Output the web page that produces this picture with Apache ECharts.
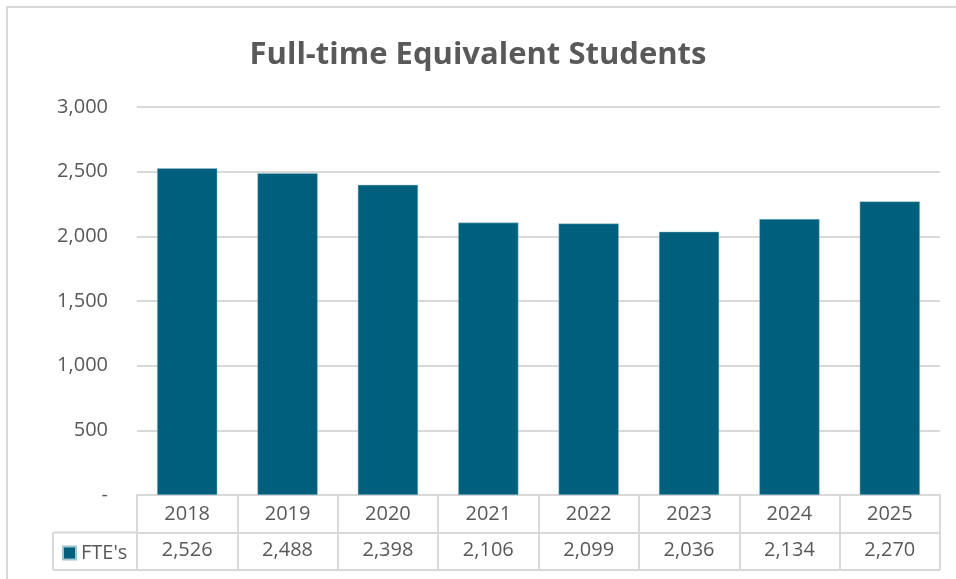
<!DOCTYPE html>
<html>
<head>
<meta charset="utf-8">
<script src="https://cdn.jsdelivr.net/npm/echarts@6/dist/echarts.min.js"></script>
<style>html,body{margin:0;padding:0;background:#fff;}#c{width:956px;height:579px;}</style>
</head>
<body>
<div id="c"></div>
<script>
const titleText = "Full-time Equivalent Students";
const seriesName = "FTE's";
const years = ["2018","2019","2020","2021","2022","2023","2024","2025"];
const fteValues = [2526, 2488, 2398, 2106, 2099, 2036, 2134, 2270];
const yTicks = [0, 500, 1000, 1500, 2000, 2500, 3000];

const fmt = v => v === 0 ? "-" : v.toLocaleString("en-US");
const G = {left: 137, right: 16, top: 107, bottom: 84};
const W = 956, H = 579;
const gx0 = G.left, gx1 = W - G.right, gy1 = H - G.bottom;
const rowH = 37.5;
const lineC = "#d9d9d9";
const txtC = "#595959";
const font = "Open Sans";
const fs = 20;

const chart = echarts.init(document.getElementById("c"), null, {renderer: "canvas"});
chart.setOption({
  animation: false,
  backgroundColor: "#fff",
  title: {
    text: titleText, left: "center", top: 35,
    textStyle: {fontFamily: font, fontSize: 31, fontWeight: "bold", color: txtC}
  },
  grid: {left: G.left, right: G.right, top: G.top, bottom: G.bottom, containLabel: false},
  legend: {
    data: [seriesName], left: 57, top: 538, icon: "rect", itemWidth: 13, itemHeight: 13, itemGap: 6,
    textStyle: {fontFamily: font, fontSize: fs, color: txtC}
  },
  xAxis: [{
    type: "category", data: years, position: "bottom",
    axisLine: {show: true, lineStyle: {color: lineC, width: 2}},
    axisTick: {show: true, length: rowH * 2, interval: 0, lineStyle: {color: lineC, width: 2}},
    axisLabel: {margin: 9, fontFamily: font, fontSize: fs, color: txtC, interval: 0}
  }, {
    type: "category", data: fteValues.map(fmt), position: "bottom", offset: rowH,
    axisLine: {show: true, lineStyle: {color: lineC, width: 2}},
    axisTick: {show: false},
    axisLabel: {margin: 8, fontFamily: font, fontSize: fs, color: txtC, interval: 0}
  }],
  yAxis: {
    type: "value", min: 0, max: 3000, interval: 500,
    axisLine: {show: false}, axisTick: {show: false},
    splitLine: {lineStyle: {color: lineC, width: 2}},
    axisLabel: {margin: 29, fontFamily: font, fontSize: fs, color: txtC, formatter: fmt}
  },
  series: [{
    name: seriesName, type: "bar", data: fteValues, xAxisIndex: 0,
    barCategoryGap: "40%",
    itemStyle: {color: "#005f7d", borderColor: "#9fc3cf", borderWidth: 0.5}
  }],
  graphic: [
    {type: "rect", shape: {x: 7, y: 7, width: W + 10, height: H + 10}, style: {fill: null, stroke: lineC, lineWidth: 2}, silent: true},
    {type: "line", shape: {x1: 53, y1: gy1 + rowH, x2: gx0, y2: gy1 + rowH}, style: {stroke: lineC, lineWidth: 2}},
    {type: "line", shape: {x1: 53, y1: gy1 + rowH * 2, x2: gx1, y2: gy1 + rowH * 2}, style: {stroke: lineC, lineWidth: 2}},
    {type: "line", shape: {x1: 53, y1: gy1 + rowH, x2: 53, y2: gy1 + rowH * 2}, style: {stroke: lineC, lineWidth: 2}}
  ]
});
</script>
</body>
</html>
